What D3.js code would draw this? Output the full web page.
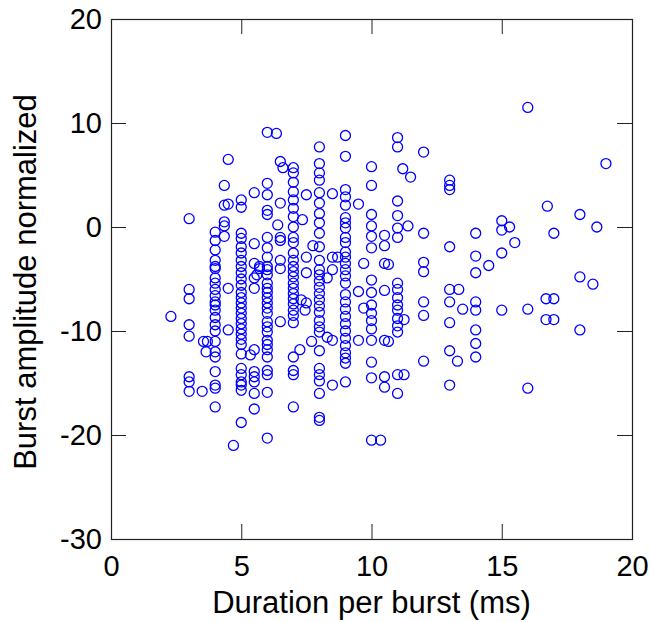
<!DOCTYPE html>
<html lang="en">
<head>
<meta charset="utf-8">
<title>Burst amplitude vs duration</title>
<script src="https://d3js.org/d3.v7.min.js"></script>
<style>
  body { margin: 0; background: #fff; }
</style>
</head>
<body>
<div id="canvas"></div>
<script>
// amplitudes grouped by duration column (ms)
const at3ms  = [0.8, -6.0, -6.9, -9.4, -10.5, -14.4, -14.9, -15.8];
const at4ms  = [-0.5, -1.3, -2.2, -3.2, -3.8, -4.0, -4.9, -5.4, -6.0, -6.6, -7.2, -7.5, -8.0, -8.7, -9.4, -10.0, -11.0, -12.0, -12.5, -13.9, -15.2, -15.5, -17.3];
const at5ms  = [2.6, 1.9, -0.6, -1.1, -1.9, -2.5, -3.2, -3.8, -4.4, -5.0, -5.6, -6.3, -6.8, -7.3, -7.8, -8.3, -8.8, -9.3, -9.8, -10.3, -10.8, -11.3, -12.2, -13.6, -14.2, -14.9, -15.2, -15.7, -18.8];
const at6ms  = [9.1, 4.2, 3.1, 1.6, 1.2, -1.0, -2.0, -2.9, -3.8, -4.1, -4.6, -5.4, -5.9, -6.3, -6.8, -7.3, -7.8, -8.3, -9.1, -9.6, -10.1, -10.9, -11.3, -11.8, -12.5, -13.8, -14.2, -15.9, -20.3];
const at7ms  = [5.7, 5.2, 4.3, 3.4, 2.6, 1.8, 1.0, 0.0, -1.0, -1.5, -2.5, -3.2, -3.8, -4.3, -4.8, -5.4, -5.9, -6.4, -6.9, -7.4, -8.0, -8.5, -9.2, -12.5, -13.8, -14.2, -17.3];
const at8ms  = [7.7, 6.1, 5.2, 4.5, 3.3, 2.3, 1.3, 0.4, -0.6, -1.9, -3.2, -4.1, -4.6, -5.2, -5.8, -6.4, -7.0, -7.6, -8.2, -9.0, -9.6, -10.1, -11.9, -13.6, -14.2, -14.8, -16.0, -18.3, -18.6];
const at9ms  = [8.8, 6.8, 3.6, 2.9, 2.1, 0.9, 0.4, -0.1, -1.0, -1.5, -2.4, -2.9, -3.5, -4.1, -4.7, -5.4, -6.5, -7.2, -7.9, -8.6, -9.3, -10.0, -10.7, -11.4, -12.1, -12.6, -13.1, -14.9];
const at10ms = [5.8, 4.0, 1.2, 0.1, -0.9, -2.0, -5.1, -6.3, -7.5, -8.3, -9.0, -9.8, -10.9, -13.0, -14.5, -20.5];
const at11ms = [8.6, 7.7, 2.5, 1.1, -0.1, -1.0, -5.4, -6.0, -6.8, -7.5, -8.0, -8.8, -9.5, -10.1, -14.2, -16.0];
const at12ms = [7.2, -0.6, -3.4, -4.3, -7.2, -8.5, -12.9];
const at13ms = [4.5, 4.0, 3.6, -1.9, -6.0, -7.2, -9.2, -11.9, -15.2];
const at14ms = [-0.6, -2.8, -4.4, -7.2, -8.0, -9.9, -11.2, -12.5];

// bursts that fall between the columns: [duration, amplitude]
const offGrid = [
  [2.3, -8.6], [3.5, -15.8], [3.55, -11.0], [3.7, -11.0], [3.65, -12.0],
  [4.35, 4.0], [4.35, 2.1], [4.5, 2.2], [4.35, 0.5], [4.35, 0.1], [4.35, -0.9], [4.5, 6.5], [4.5, -5.9], [4.5, -9.9], [4.7, -21.0],
  [5.5, 3.3], [5.5, -1.6], [5.5, -3.5], [5.7, -4.0], [5.6, -4.6], [5.5, -4.9], [5.5, -5.9], [5.5, -11.8], [5.35, -12.3],
  [5.5, -13.9], [5.5, -14.4], [5.5, -14.9], [5.5, -16.0], [5.5, -17.5], [5.7, -3.8],
  [6.35, 9.0], [6.5, 6.3], [6.6, 5.7], [6.5, 2.3], [6.4, 0.2], [6.5, -1.0], [6.5, -1.3], [6.5, -3.2], [6.5, -4.0], [6.5, -9.1],
  [7.35, 0.7], [7.5, 3.1], [7.5, -2.9], [7.75, -1.8], [7.5, -4.4], [7.3, -7.0], [7.45, -8.0], [7.25, -11.8], [7.7, -11.0], [7.5, -7.3],
  [8.5, 3.2], [8.7, -2.9], [8.5, -2.9], [8.5, -4.1], [8.3, -4.9], [8.3, -10.6], [8.5, -10.9], [8.5, -15.2],
  [9.5, 2.2], [9.7, -3.5], [9.5, -6.2], [9.7, -7.8], [9.5, -10.9],
  [10.5, -0.8], [10.5, -1.8], [10.5, -3.5], [10.65, -3.6], [10.5, -6.1], [10.5, -10.9], [10.65, -11.0], [10.5, -14.4], [10.5, -15.4], [10.35, -20.5],
  [11.2, 5.6], [11.5, 4.8], [11.4, 0.1], [11.25, -8.9], [11.25, -14.2],
  [13.35, -6.0], [13.5, -7.9], [13.3, -12.9],
  [14.5, -3.7],
  [15, 0.6], [15, -0.3], [15.3, 0.0], [15.5, -1.5], [15, -2.5], [15, -8.0],
  [16, 11.5], [16, -7.9], [16, -15.5], [16.75, 2.0], [16.7, -6.9], [17, -6.9], [16.7, -8.9], [17, -8.9], [17, -0.6],
  [18, 1.2], [18, -4.8], [18, -9.9], [18.5, -5.5], [18.65, 0.0], [19, 6.1]
];

const xTicks = [0, 5, 10, 15, 20];
const yTicks = [-30, -20, -10, 0, 10, 20];

const columns = [
  [3, at3ms], [4, at4ms], [5, at5ms], [6, at6ms], [7, at7ms], [8, at8ms],
  [9, at9ms], [10, at10ms], [11, at11ms], [12, at12ms], [13, at13ms], [14, at14ms]
];
const points = [];
columns.forEach(([ms, amps]) => amps.forEach(a => points.push([ms, a])));
offGrid.forEach(p => points.push(p));

const width = 650, height = 622;
const plotL = 111, plotR = 632, plotT = 19, plotB = 539;
const font = "'Liberation Sans', Arial, sans-serif";
const plain = d => String(d);   // hyphen minus like the original, not U+2212

const x = d3.scaleLinear().domain([0, 20]).range([plotL, plotR]);
const y = d3.scaleLinear().domain([-30, 20]).range([plotB, plotT]);

const svg = d3.select("#canvas").append("svg")
    .attr("width", width)
    .attr("height", height)
    .attr("font-family", font);

// inward ticks on all four sides, MATLAB style
function styleAxis(g) {
  g.select(".domain").remove();
  g.selectAll(".tick line").attr("stroke", "#222").attr("stroke-width", 1);
  g.selectAll(".tick text").attr("fill", "#000").attr("font-size", 29).attr("font-family", font);
}

svg.append("g")
    .attr("transform", `translate(0,${plotB})`)
    .call(d3.axisBottom(x).tickValues(xTicks).tickFormat(plain).tickSizeInner(-15).tickSizeOuter(0).tickPadding(16))
    .call(styleAxis);

svg.append("g")
    .attr("transform", `translate(0,${plotT})`)
    .call(d3.axisTop(x).tickValues(xTicks).tickFormat("").tickSizeInner(-15).tickSizeOuter(0))
    .call(styleAxis);

svg.append("g")
    .attr("transform", `translate(${plotL},0)`)
    .call(d3.axisLeft(y).tickValues(yTicks).tickFormat(plain).tickSizeInner(-15).tickSizeOuter(0).tickPadding(9))
    .call(styleAxis);

svg.append("g")
    .attr("transform", `translate(${plotR},0)`)
    .call(d3.axisRight(y).tickValues(yTicks).tickFormat("").tickSizeInner(-15).tickSizeOuter(0))
    .call(styleAxis);

svg.append("rect")
    .attr("x", plotL + 0.5)
    .attr("y", plotT + 0.5)
    .attr("width", plotR - plotL)
    .attr("height", plotB - plotT)
    .attr("fill", "none")
    .attr("stroke", "#222")
    .attr("stroke-width", 1.2);

svg.append("g")
  .selectAll("circle")
  .data(points)
  .join("circle")
    .attr("cx", d => x(d[0]))
    .attr("cy", d => y(d[1]))
    .attr("r", 5)
    .attr("fill", "none")
    .attr("stroke", "#0000ff")
    .attr("stroke-width", 1.3);

svg.append("text")
    .attr("x", (plotL + plotR) / 2)
    .attr("y", 613)
    .attr("text-anchor", "middle")
    .attr("font-size", 31)
    .text("Duration per burst (ms)");

svg.append("text")
    .attr("transform", `translate(36,${(plotT + plotB) / 2 + 3}) rotate(-90)`)
    .attr("text-anchor", "middle")
    .attr("font-size", 31)
    .text("Burst amplitude normalized");
</script>
</body>
</html>
